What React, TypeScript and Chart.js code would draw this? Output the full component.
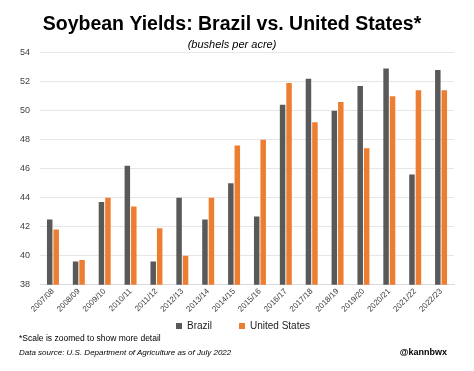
import React, { useEffect, useRef } from "react";
import { Chart, registerables } from "chart.js";

Chart.register(...registerables);

const categories = ["2007/08","2008/09","2009/10","2010/11","2011/12","2012/13","2013/14","2014/15","2015/16","2016/17","2017/18","2018/19","2019/20","2020/21","2021/22","2022/23"];
const brazil = [42.5, 39.6, 43.7, 46.2, 39.6, 44.0, 42.5, 45.0, 42.7, 50.4, 52.2, 50.0, 51.7, 52.9, 45.6, 52.8];
const unitedStates = [41.8, 39.7, 44.0, 43.4, 41.9, 40.0, 44.0, 47.6, 48.0, 51.9, 49.2, 50.6, 47.4, 51.0, 51.4, 51.4];
const titleText = "Soybean Yields: Brazil vs. United States*";
const subtitleText = "(bushels per acre)";
const noteText = "*Scale is zoomed to show more detail";
const sourceText = "Data source: U.S. Department of Agriculture as of July 2022";
const handleText = "@kannbwx";

const FONT = "'Liberation Sans', Arial, sans-serif";

const legendShift = {
  id: "legendShift",
  afterLayout(chart: any) {
    const lg = chart.legend;
    if (!lg) return;
    lg.top -= 22;
    lg.bottom -= 22;
    lg.left += 11;
    lg.right += 11;
  },
};

export default function App() {
  const ref = useRef<HTMLCanvasElement | null>(null);
  useEffect(() => {
    if (!ref.current) return;
    const chart = new Chart(ref.current, {
      type: "bar",
      data: {
        labels: categories,
        datasets: [
          { label: "Brazil", data: brazil, backgroundColor: "#595959", barPercentage: 0.85, categoryPercentage: 0.5 },
          { label: "United States", data: unitedStates, backgroundColor: "#ED7D31", barPercentage: 0.85, categoryPercentage: 0.5 },
        ],
      },
      options: {
        animation: false,
        responsive: false,
        layout: { padding: { left: 10, right: 20, top: 0, bottom: 8 } },
        plugins: {
          title: {
            display: true,
            text: titleText,
            color: "#000",
            font: { family: FONT, size: 19.5, weight: "bold" },
            padding: { top: 13, bottom: 2 },
          },
          subtitle: {
            display: true,
            text: subtitleText,
            color: "#000",
            font: { family: FONT, size: 11, style: "italic" },
            padding: { top: 0, bottom: 1 },
          },
          legend: {
            position: "bottom",
            labels: {
              boxWidth: 6,
              boxHeight: 6,
              color: "#222",
              font: { family: FONT, size: 10 },
              padding: 27,
            },
          },
          tooltip: { enabled: false },
        },
        scales: {
          x: {
            grid: { display: false, drawTicks: false },
            border: { display: true, color: "#d9d9d9" },
            ticks: {
              color: "#404040",
              font: { family: FONT, size: 8 },
              maxRotation: 45,
              minRotation: 45,
              padding: 2,
            },
          },
          y: {
            min: 38,
            max: 54,
            ticks: { stepSize: 2, color: "#404040", font: { family: FONT, size: 9 }, padding: 10 },
            grid: { color: "#e6e6e6", drawTicks: false },
            border: { display: false },
          },
        },
      },
      plugins: [legendShift],
    });
    return () => chart.destroy();
  }, []);
  return (
    <div style={{ position: "fixed", left: 0, top: 0, width: 474, height: 371, background: "#fff", fontFamily: FONT }}>
      <canvas ref={ref} width={474} height={371} style={{ display: "block" }} />
      <div style={{ position: "absolute", left: 19, top: 333, fontSize: 8.5, color: "#000" }}>{noteText}</div>
      <div style={{ position: "absolute", left: 19, top: 348, fontSize: 8, fontStyle: "italic", color: "#000" }}>{sourceText}</div>
      <div style={{ position: "absolute", right: 27, top: 347, fontSize: 9, fontWeight: "bold", color: "#000" }}>{handleText}</div>
    </div>
  );
}
